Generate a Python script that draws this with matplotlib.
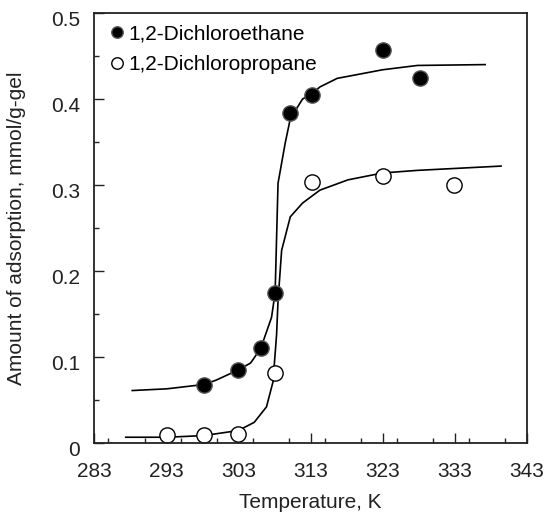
import matplotlib
matplotlib.use("Agg")
import matplotlib.pyplot as plt
import matplotlib.transforms as mtransforms
from matplotlib.ticker import MultipleLocator

plt.rcParams["font.family"] = ["Liberation Sans", "DejaVu Sans"]

# measured points
t_dce = [298.2, 303.0, 306.1, 308.1, 310.2, 313.2, 323.0, 328.2]
q_dce = [0.067, 0.085, 0.110, 0.175, 0.384, 0.405, 0.457, 0.424]
t_dcp = [293.1, 298.2, 303.0, 308.1, 313.2, 323.0, 332.9]
q_dcp = [0.009, 0.009, 0.011, 0.081, 0.304, 0.311, 0.300]

# fitted curves
tc_dce = [288.3, 293.1, 298.2, 299.9, 303.0, 304.7, 306.1, 307.6, 308.1, 308.5,
          309.5, 310.2, 311.9, 313.2, 314.3, 316.7, 323.0, 327.8, 337.2]
qc_dce = [0.061, 0.063, 0.068, 0.073, 0.085, 0.093, 0.110, 0.146, 0.175, 0.302,
          0.349, 0.377, 0.400, 0.406, 0.414, 0.424, 0.434, 0.439, 0.440]
tc_dcp = [287.4, 293.1, 298.2, 303.0, 305.2, 306.9, 307.8, 308.3, 308.5, 309.0,
          310.2, 311.9, 314.3, 318.2, 323.0, 327.8, 339.4]
qc_dcp = [0.0067, 0.0067, 0.0086, 0.0145, 0.024, 0.042, 0.071, 0.126, 0.165, 0.224,
          0.263, 0.279, 0.294, 0.306, 0.314, 0.317, 0.322]

x_ticks = [283, 293, 303, 313, 323, 333, 343]
y_ticks = [0, 0.1, 0.2, 0.3, 0.4, 0.5]
y_labels = ["0", "0.1", "0.2", "0.3", "0.4", "0.5"]

fig = plt.figure(figsize=(5.44, 5.26), dpi=100)
ax = fig.add_axes([94 / 544, 1 - 443 / 526, 433 / 544, 430 / 526])

ax.plot(tc_dce, qc_dce, color="black", lw=1.2)
ax.plot(tc_dcp, qc_dcp, color="black", lw=1.2)
ax.plot(t_dce, q_dce, "o", ms=11, mfc="black", mec="#555555", mew=1.0,
        label="1,2-Dichloroethane")
ax.plot(t_dcp, q_dcp, "o", ms=11, mfc="white", mec="black", mew=1.0,
        label="1,2-Dichloropropane")

ax.set_xlim(283, 343)
ax.set_ylim(0, 0.5)
ax.set_xticks(x_ticks)
ax.xaxis.set_minor_locator(MultipleLocator(5))
ax.set_yticks(y_ticks)
ax.set_yticklabels(y_labels)
ax.yaxis.set_minor_locator(MultipleLocator(0.05))
ax.tick_params(which="both", direction="in", labelsize=15, width=1,
               colors="#222222")
ax.tick_params(which="major", length=7)
ax.tick_params(axis="x", which="major", pad=14)
ax.tick_params(axis="y", which="major", pad=10)
ax.tick_params(which="minor", length=3.5)
for s in ax.spines.values():
    s.set_linewidth(1.3)
    s.set_color("#222222")

# y labels sit a little below their ticks in the original
off = mtransforms.ScaledTranslation(0, -5 / 100, fig.dpi_scale_trans)
for lab in ax.get_yticklabels():
    lab.set_transform(lab.get_transform() + off)

ax.set_xlabel("Temperature, K", fontsize=15, labelpad=8, color="#222222")
ax.set_ylabel("Amount of adsorption, mmol/g-gel", fontsize=15, labelpad=18,
              color="#222222")

ax.legend(loc="upper left", frameon=False, fontsize=15, handletextpad=0.0,
          markerscale=0.75, borderaxespad=0.2, labelspacing=0.55,
          handlelength=1.1, borderpad=0.35)

fig.savefig("out.png", dpi=100)
